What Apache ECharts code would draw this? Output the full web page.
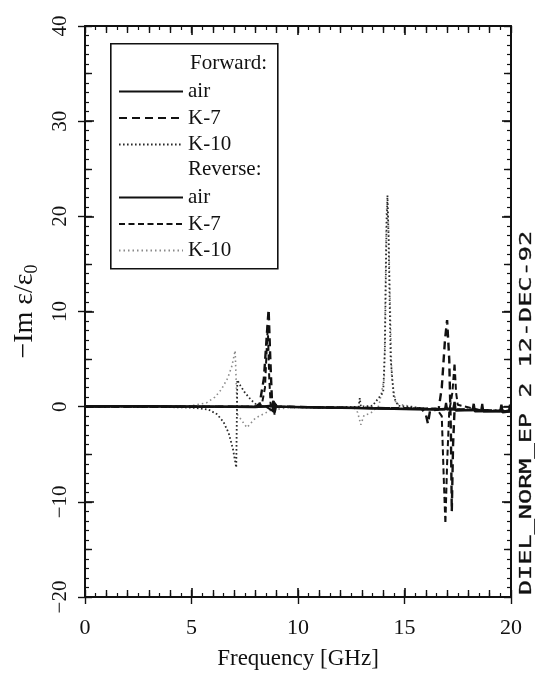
<!DOCTYPE html>
<html>
<head>
<meta charset="utf-8">
<script src="https://cdn.jsdelivr.net/npm/echarts@6/dist/echarts.min.js"></script>
<style>
  html, body { margin: 0; padding: 0; background: #fff; }
  #chart { width: 538px; height: 675px; }
</style>
</head>
<body>
<div id="chart"></div>
<script>
// Frequency axis ticks and value axis ticks
const freqTicks = [0, 5, 10, 15, 20];
const valueTicks = [-20, -10, 0, 10, 20, 30, 40];

// Legend labels
const groupHeaders = ['Forward:', 'Reverse:'];
const sampleNames = ['air', 'K-7', 'K-10'];

// Curves: [frequency GHz, -Im eps/eps0]
const fwdAir = [[0, 0.05], [2, 0.05], [4, 0], [6, 0], [8, -0.05], [8.8, 0.1], [8.85, 0.6], [8.9, -0.6], [8.95, 0],
  [11, -0.1], [13, -0.15], [15, -0.25], [16.5, -0.3], [17.3, -0.2], [17.35, 0.5], [17.4, -0.4], [18.2, -0.35],
  [18.25, 0.3], [18.3, -0.5], [19.5, -0.45], [19.55, 0.2], [19.6, -0.6], [20, -0.5]];
const fwdK7 = [[0, 0], [4, 0], [8, 0], [8.2, 0.3], [8.4, 3], [8.55, 8], [8.62, 10.2], [8.7, 5], [8.78, 0.5],
  [8.85, -0.8], [8.9, 0.5], [9.0, 0], [12, -0.1], [15.8, -0.2], [16.0, -0.8], [16.1, -1.8], [16.2, -0.4],
  [16.6, -0.3], [16.75, 2], [16.9, 7], [17.0, 9.1], [17.1, 5], [17.18, -3], [17.22, -11], [17.28, -4],
  [17.35, -0.3], [18, -0.3], [20, -0.5]];
const fwdK10 = [[0, 0.05], [3, 0], [5, -0.1], [5.8, -0.3], [6.2, -0.8], [6.5, -1.6], [6.75, -2.8], [6.95, -4.5],
  [7.1, -6.4], [7.15, 2.8], [7.3, 2.2], [7.5, 1.5], [7.8, 0.7], [8.1, 0.1], [9, -0.05], [12, -0.1],
  [12.85, 0], [12.9, 0.9], [12.95, 0], [13.5, 0.1], [13.85, 1.1], [14.0, 1.5], [14.08, 6], [14.15, 18],
  [14.2, 22.2], [14.25, 18], [14.35, 5], [14.5, 1], [14.7, 0.1], [16, -0.2], [20, -0.4]];
const revAir = [[0, 0], [3, 0.05], [6, 0], [8.5, 0], [8.85, -0.5], [8.9, 0.4], [9, 0], [12, -0.1], [14, -0.2],
  [16, -0.25], [16.9, -0.3], [16.95, 0.4], [17, -0.3], [18.6, -0.4], [18.65, 0.3], [18.7, -0.5],
  [19.9, -0.5], [19.95, 0.2], [20, -0.45]];
const revK7 = [[0, 0], [4, 0], [8, 0], [8.3, 0.2], [8.45, 2], [8.58, 8.5], [8.65, 3], [8.72, 0], [8.85, 0.6],
  [8.9, -0.9], [8.95, 0], [12, -0.1], [16.5, -0.2], [16.75, -1], [16.85, -8], [16.92, -12.3], [17.0, -6],
  [17.1, -0.5], [17.25, 1.5], [17.35, 4.6], [17.42, 1.5], [17.5, 0.2], [18.5, -0.35], [20, -0.5]];
const revK10 = [[0, 0], [5, 0.1], [5.7, 0.4], [6.1, 1.0], [6.4, 1.8], [6.7, 3.0], [6.9, 4.3], [7.05, 5.9],
  [7.15, -0.8], [7.6, -2.2], [8.0, -1.2], [8.7, -0.4], [9.5, -0.1], [12.6, 0], [12.8, -0.6], [12.95, -1.9],
  [13.1, -0.9], [13.4, -0.7], [13.6, -0.3], [13.8, 0.1], [14.05, 3], [14.15, 20.5], [14.2, 21.5],
  [14.25, 19], [14.4, 3], [14.6, 0.3], [16, -0.25], [20, -0.45]];

const SERIF = '"Liberation Serif", "DejaVu Serif", serif';
const INK = '#111';

const chart = echarts.init(document.getElementById('chart'), null, { renderer: 'canvas' });

const grid = { left: 85, right: 27, top: 26, bottom: 76, containLabel: false };

function minus(v) { return String(v).replace('-', '\u2212'); }

// one frame side: main ticks inside with minor ticks
function frameAxis(kind, pos, opts) {
  const isX = kind === 'x';
  return Object.assign({
    type: 'value', gridIndex: 0, position: pos,
    min: isX ? 0 : -20, max: isX ? 20 : 40, interval: isX ? 5 : 10,
    axisLine: { show: true, onZero: false, lineStyle: { color: INK, width: 2 } },
    axisTick: { show: true, inside: true, length: 9, lineStyle: { color: INK, width: 1.6 } },
    minorTick: { show: true, splitNumber: 10, length: 4, lineStyle: { color: INK, width: 1.2 } },
    splitLine: { show: false },
    axisLabel: { show: false }
  }, opts || {});
}
// extra tick layer (medium or outside ticks)
function tickLayer(kind, pos, interval, length, inside) {
  const isX = kind === 'x';
  return {
    type: 'value', gridIndex: 0, position: pos,
    min: isX ? 0 : -20, max: isX ? 20 : 40, interval: interval,
    axisLine: { show: false, onZero: false },
    axisTick: { show: true, inside: inside, length: length, lineStyle: { color: INK, width: 1.4 } },
    splitLine: { show: false }, axisLabel: { show: false }
  };
}

const xAxes = [
  frameAxis('x', 'bottom', {
    axisLabel: { show: true, margin: 20, color: INK, fontFamily: SERIF, fontSize: 22, formatter: v => freqTicks.includes(v) ? minus(v) : '' },
    name: 'Frequency [GHz]', nameLocation: 'middle', nameGap: 50,
    nameTextStyle: { color: INK, fontFamily: SERIF, fontSize: 23 }
  }),
  frameAxis('x', 'top'),
  tickLayer('x', 'bottom', 1, 7, true),
  tickLayer('x', 'top', 1, 7, true),
  tickLayer('x', 'bottom', 5, 7, false)
];
const yAxes = [
  frameAxis('y', 'left', {
    axisLabel: { show: true, rotate: 90, margin: 14, color: INK, fontFamily: SERIF, fontSize: 21, formatter: v => valueTicks.includes(v) ? minus(v) : '' },
    name: '\u2212Im \u03b5/\u03b5{s|0}', nameLocation: 'middle', nameGap: 44, nameRotate: 90,
    nameTextStyle: { color: INK, fontFamily: SERIF, fontSize: 28, rich: { s: { fontFamily: SERIF, fontSize: 18, padding: [14, 0, 0, 0], color: INK } } }
  }),
  frameAxis('y', 'right'),
  tickLayer('y', 'left', 5, 7, true),
  tickLayer('y', 'right', 5, 7, true),
  tickLayer('y', 'left', 10, 7, false)
];

function curve(id, data, style, z) {
  return {
    id: id, name: id, type: 'line', xAxisIndex: 0, yAxisIndex: 0, data: data,
    symbol: 'none', showSymbol: false, smooth: false, z: z,
    lineStyle: style, itemStyle: { color: style.color }
  };
}

const series = [
  curve('revK10', revK10, { color: '#8a8a8a', width: 1.6, type: [1.5, 3] }, 2),
  curve('fwdK10', fwdK10, { color: '#2a2a2a', width: 1.8, type: [1.6, 2.4] }, 3),
  curve('revK7', revK7, { color: INK, width: 2.0, type: [6, 3.5] }, 4),
  curve('fwdK7', fwdK7, { color: INK, width: 2.4, type: [8, 5] }, 5),
  curve('revAir', revAir, { color: INK, width: 2.2, type: 'solid' }, 6),
  curve('fwdAir', fwdAir, { color: INK, width: 2.4, type: 'solid' }, 7)
];

const legendNames = { fwdAir: sampleNames[0], fwdK7: sampleNames[1], fwdK10: sampleNames[2],
  revAir: sampleNames[0], revK7: sampleNames[1], revK10: sampleNames[2] };

function legendBlock(ids, top) {
  return {
    show: true, orient: 'vertical', left: 118, top: top, padding: 0,
    itemWidth: 64, itemHeight: 14, itemGap: 5.5, selectedMode: false,
    itemStyle: { opacity: 0, borderWidth: 0 },
    data: ids, formatter: n => legendNames[n],
    textStyle: { color: INK, fontFamily: SERIF, fontSize: 21, padding: [0, 0, 0, 0] }
  };
}

const option = {
  animation: false,
  backgroundColor: '#fff',
  grid: grid,
  xAxis: xAxes,
  yAxis: yAxes,
  legend: [legendBlock(['fwdAir', 'fwdK7', 'fwdK10'], 81), legendBlock(['revAir', 'revK7', 'revK10'], 187)],
  series: series,
  graphic: [
    { type: 'rect', left: 110, top: 43, shape: { width: 167, height: 225 }, z: 50,
      style: { fill: 'rgba(0,0,0,0)', stroke: INK, lineWidth: 1.6 } },
    { type: 'text', left: 190, top: 53, z: 51,
      style: { text: groupHeaders[0], font: '21px ' + SERIF, fill: INK } },
    { type: 'text', left: 188, top: 159, z: 51,
      style: { text: groupHeaders[1], font: '21px ' + SERIF, fill: INK } },
    { type: 'text', x: 527, y: 413, rotation: Math.PI / 2, scaleX: 1.2, scaleY: 0.72, z: 51,
      style: { text: 'DIEL_NORM_EP 2 12-DEC-92', font: '21px "DejaVu Sans Mono"', fill: INK, stroke: INK, lineWidth: 0.4, align: 'center', verticalAlign: 'middle' } }
  ]
};

chart.setOption(option);
</script>
</body>
</html>
